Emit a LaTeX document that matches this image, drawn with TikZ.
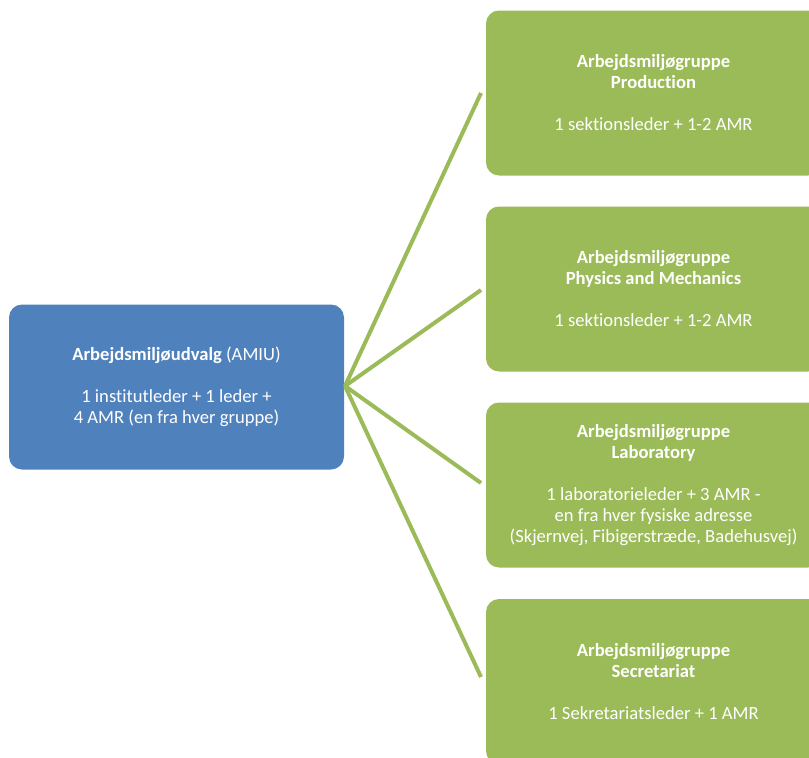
\documentclass[tikz,border=0pt]{standalone}
\usepackage{fontspec}
\setmainfont{Carlito}[Ligatures={NoCommon}]
\definecolor{boxblue}{HTML}{4F81BD}
\definecolor{boxgreen}{HTML}{9BBB59}
\tikzset{
  orgbox/.style={rounded corners=13pt, minimum width=335pt, minimum height=165pt,
    text=white, align=center, inner sep=0pt, font=\fontsize{18.6}{21}\selectfont},
  mainbox/.style={orgbox, fill=boxblue},
  groupbox/.style={orgbox, fill=boxgreen},
  link/.style={draw=boxgreen, line width=4pt}
}
\begin{document}
\begin{tikzpicture}[x=1pt,y=-1pt]
\useasboundingbox (0,0) rectangle (809,758);
\clip (0,0) rectangle (809,758);
\node[mainbox] (amiu) at (176.5,387) {\textbf{Arbejdsmiljøudvalg} (AMIU)\\[21pt]1 institutleder + 1 leder +\\4 AMR (en fra hver gruppe)};
\node[groupbox] (prod) at (653.5,93) {\textbf{Arbejdsmiljøgruppe}\\\textbf{Production}\\[21pt]1 sektionsleder + 1-2 AMR};
\node[groupbox] (phys) at (653.5,289) {\textbf{Arbejdsmiljøgruppe}\\\textbf{Physics and Mechanics}\\[21pt]1 sektionsleder + 1-2 AMR};
\node[groupbox] (lab) at (653.5,485) {\textbf{Arbejdsmiljøgruppe}\\\textbf{Laboratory}\\[21pt]1 laboratorieleder + 3 AMR -\\en fra hver fysiske adresse\\(Skjernvej, Fibigerstræde, Badehusvej)};
\node[groupbox] (sec) at (653.5,681.5) {\textbf{Arbejdsmiljøgruppe}\\\textbf{Secretariat}\\[21pt]1 Sekretariatsleder + 1 AMR};
\coordinate (tprod) at (481,93);
\coordinate (tphys) at (481,290);
\coordinate (tlab) at (481,483);
\coordinate (tsec) at (481,677);
\coordinate (hub) at (345,386);
\draw[link] (hub) -- (tprod);
\draw[link] (hub) -- (tphys);
\draw[link] (hub) -- (tlab);
\draw[link] (hub) -- (tsec);
\end{tikzpicture}
\end{document}
